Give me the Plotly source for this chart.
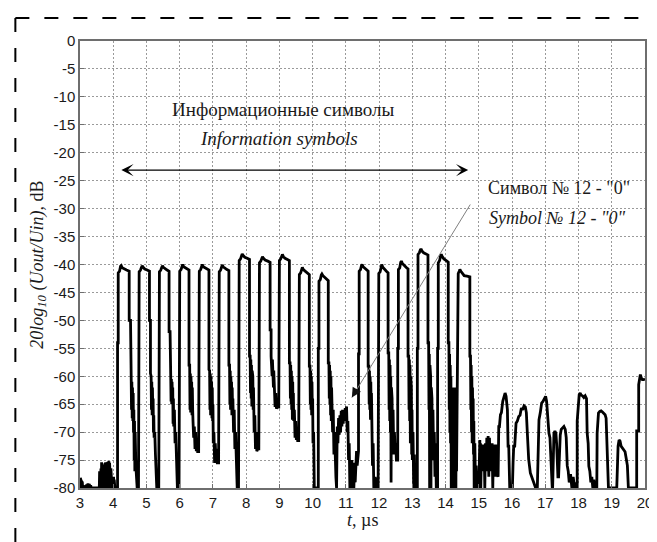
import plotly.graph_objects as go

# ---------------- data (t in µs, level in dB) ----------------
pre_noise = [(3.00,-80),(3.01,-78.2),(3.02,-80),(3.03,-78.6),(3.04,-80),(3.05,-78.8),(3.06,-80),(3.07,-79),
             (3.08,-80),(3.10,-79.5),(3.12,-80),(3.14,-79.6),(3.16,-80),(3.20,-79.4),(3.22,-80),(3.24,-79.2),
             (3.26,-80),(3.28,-79.3),(3.30,-80),(3.32,-79.5),(3.34,-80),(3.38,-80),(3.58,-80),
             (3.59,-77),(3.60,-80),(3.61,-77),(3.62,-80),(3.63,-76.5),(3.64,-80),(3.65,-75.4),(3.66,-80),
             (3.67,-76.5),(3.68,-80),(3.69,-76.8),(3.70,-80),(3.71,-76.5),(3.72,-80),(3.73,-76.2),(3.74,-80),
             (3.75,-75.6),(3.76,-80),(3.77,-75.4),(3.78,-80),(3.79,-75.8),(3.80,-80),(3.81,-75.6),(3.82,-80),
             (3.83,-75.5),(3.84,-80),(3.85,-75.6),(3.86,-80),(3.87,-75.2),(3.88,-80),(3.89,-75.5),(3.90,-80),
             (3.91,-75.8),(3.92,-80),(3.93,-76.5),(3.94,-80),(3.95,-77.5),(3.96,-80),(3.97,-78),(3.98,-80),
             (3.99,-78.2),(4.00,-80),(4.01,-78),(4.02,-80),(4.03,-78.5),(4.05,-80),(4.13,-80)]

sym01 = [(4.13,-80),(4.13,-54),(4.15,-54),(4.15,-41.5),(4.19,-41.2),(4.22,-40.3),(4.24,-40.2),(4.27,-40.6),
         (4.32,-40.8),(4.40,-41),(4.48,-41.2),(4.48,-50),(4.52,-50),(4.52,-59.5),(4.54,-60),(4.55,-66),
         (4.56,-61),(4.57,-67.5),(4.58,-62),(4.59,-68),(4.60,-63),(4.61,-70),(4.62,-66),(4.63,-75),
         (4.64,-68),(4.65,-77),(4.66,-70),(4.68,-76),(4.70,-78),(4.72,-80),(4.76,-80)]
sym02 = [(4.76,-80),(4.76,-54),(4.78,-54),(4.78,-41.3),(4.82,-41),(4.85,-40.3),(4.87,-40.2),(4.90,-40.5),
         (4.95,-40.8),(5.02,-41),(5.09,-41.2),(5.09,-50),(5.12,-50),(5.12,-59.5),(5.14,-60),(5.15,-66),
         (5.16,-61),(5.17,-67),(5.18,-62),(5.19,-66),(5.20,-64),(5.21,-70),(5.22,-67),(5.23,-71),
         (5.25,-70),(5.27,-74),(5.29,-77),(5.31,-80),(5.37,-80)]
sym03 = [(5.37,-80),(5.37,-54),(5.39,-54),(5.39,-41.3),(5.43,-41),(5.46,-40.3),(5.48,-40.2),(5.51,-40.5),
         (5.56,-40.8),(5.62,-41),(5.68,-41.2),(5.68,-52),(5.71,-52),(5.71,-59.5),(5.73,-60),(5.74,-64.5),
         (5.75,-60.5),(5.76,-65),(5.77,-61),(5.78,-64),(5.79,-62),(5.80,-68.5),(5.81,-64),(5.82,-69),
         (5.84,-66),(5.86,-72),(5.88,-70),(5.90,-76),(5.93,-80),(5.98,-80)]
sym04 = [(5.98,-80),(5.98,-52),(6.00,-52),(6.00,-41.2),(6.04,-40.9),(6.07,-40.2),(6.09,-40),(6.12,-40.4),
         (6.17,-40.6),(6.22,-40.8),(6.28,-41),(6.28,-58),(6.30,-58),(6.31,-66),(6.32,-59.5),(6.33,-66.5),
         (6.34,-60),(6.35,-65),(6.36,-61),(6.37,-67),(6.38,-62),(6.39,-66),(6.40,-68),(6.42,-71),
         (6.44,-69),(6.46,-73),(6.48,-70),(6.50,-73.4),(6.52,-72),(6.54,-73.5),(6.57,-73.5)]
sym05 = [(6.57,-73.5),(6.57,-57.5),(6.59,-57.5),(6.59,-41.2),(6.63,-40.9),(6.66,-40.2),(6.68,-40),(6.71,-40.4),
         (6.76,-40.6),(6.82,-40.8),(6.88,-41),(6.88,-58.8),(6.90,-59),(6.91,-66),(6.92,-59.5),(6.93,-67),
         (6.94,-60),(6.95,-66),(6.96,-61),(6.97,-67.5),(6.98,-62),(6.99,-68),(7.00,-65),(7.01,-72),
         (7.03,-70),(7.05,-75.5),(7.07,-72),(7.09,-75),(7.11,-73),(7.13,-75.5),(7.17,-75.5)]
sym06 = [(7.17,-75.5),(7.17,-56.5),(7.19,-56.5),(7.19,-41.3),(7.23,-41),(7.26,-40.3),(7.28,-40.1),(7.31,-40.4),
         (7.36,-40.7),(7.42,-40.9),(7.48,-41.1),(7.48,-58),(7.50,-58),(7.51,-65),(7.52,-59),(7.53,-66),
         (7.54,-60),(7.55,-64.5),(7.56,-61),(7.57,-67),(7.58,-62),(7.59,-66),(7.60,-64),(7.62,-70),
         (7.64,-66),(7.66,-73),(7.68,-70),(7.70,-76),(7.73,-80),(7.77,-80)]
sym07 = [(7.77,-80),(7.77,-54),(7.79,-54),(7.79,-39.3),(7.83,-39),(7.86,-38.3),(7.88,-38.1),(7.91,-38.4),
         (7.96,-38.7),(8.03,-38.9),(8.10,-39.1),(8.10,-56.4),(8.12,-56.4),(8.13,-63),(8.14,-57),(8.15,-64),
         (8.16,-58),(8.17,-65.4),(8.18,-59),(8.19,-64),(8.20,-60),(8.21,-66),(8.22,-62),(8.24,-70),
         (8.26,-67),(8.28,-73),(8.30,-70),(8.32,-73.4),(8.35,-73),(8.38,-73)]
sym08 = [(8.38,-73),(8.38,-55),(8.40,-55),(8.40,-39.7),(8.44,-39.4),(8.47,-38.8),(8.49,-38.6),(8.52,-38.9),
         (8.57,-39.2),(8.65,-39.4),(8.72,-39.6),(8.72,-51.7),(8.75,-51.7),(8.75,-56.4),(8.76,-59.4),(8.77,-56.8),
         (8.78,-60),(8.79,-57),(8.80,-59.5),(8.81,-58),(8.82,-62),(8.83,-59),(8.85,-64),(8.87,-65.5),
         (8.89,-63),(8.91,-65.8),(8.93,-65.5),(8.98,-65.5)]
sym09 = [(8.98,-65.5),(8.98,-55),(9.00,-55),(9.00,-39.3),(9.04,-39),(9.07,-38.4),(9.09,-38.2),(9.12,-38.6),
         (9.17,-38.9),(9.24,-39.1),(9.30,-39.3),(9.30,-57.6),(9.32,-57.6),(9.33,-64),(9.34,-58),(9.35,-65),
         (9.36,-59),(9.37,-66),(9.38,-60),(9.39,-67.8),(9.40,-61),(9.41,-66),(9.42,-63),(9.43,-68),
         (9.45,-66),(9.47,-71),(9.49,-68),(9.51,-71.4),(9.53,-70),(9.55,-71.5),(9.58,-71.5)]
sym10 = [(9.58,-71.5),(9.58,-55),(9.60,-55),(9.60,-41.8),(9.64,-41.5),(9.67,-40.7),(9.69,-40.5),(9.72,-40.9),
         (9.77,-41.2),(9.84,-41.5),(9.90,-41.8),(9.90,-58.2),(9.92,-58.2),(9.93,-65),(9.94,-59),(9.95,-66),
         (9.96,-60),(9.97,-67),(9.98,-61),(9.99,-66),(10.00,-64),(10.01,-72),(10.03,-70),(10.05,-80),
         (10.17,-80)]
sym11 = [(10.17,-80),(10.17,-55),(10.19,-55),(10.19,-43),(10.23,-42.7),(10.26,-41.9),(10.28,-41.7),(10.31,-42),
         (10.36,-42.3),(10.42,-42.6),(10.47,-42.9),(10.47,-57.6),(10.49,-57.6),(10.50,-64),(10.51,-58),(10.52,-65),
         (10.53,-59),(10.54,-67),(10.55,-60),(10.56,-68),(10.57,-62),(10.58,-66),(10.59,-64),(10.60,-70),
         (10.62,-66),(10.64,-74),(10.66,-70),(10.68,-77),(10.70,-78),(10.72,-80)]
sym12_zero = [(10.72,-80),(10.74,-69),(10.76,-72),(10.78,-67.5),(10.80,-70.5),(10.82,-67),(10.84,-70),(10.86,-66.2),
              (10.88,-69),(10.90,-66),(10.92,-68.5),(10.94,-66.3),(10.96,-68),(10.98,-65.7),(11.00,-67),(11.02,-65.4),
              (11.04,-70),(11.06,-68),(11.08,-75),(11.10,-72),(11.12,-80),(11.14,-76),(11.16,-80),(11.18,-75),
              (11.20,-79),(11.22,-77),(11.24,-80),(11.26,-75.5),(11.28,-79),(11.30,-74),(11.32,-73.4),(11.34,-76),
              (11.36,-73.4),(11.38,-73.4)]
sym13 = [(11.38,-73.4),(11.38,-56),(11.40,-56),(11.40,-41.2),(11.44,-40.9),(11.47,-40.2),(11.49,-40),(11.52,-40.4),
         (11.57,-40.7),(11.62,-40.9),(11.67,-41.2),(11.67,-58.2),(11.69,-58.2),(11.70,-65),(11.71,-59),(11.72,-66),
         (11.73,-60),(11.74,-67.8),(11.75,-61),(11.76,-66),(11.77,-63),(11.78,-72),(11.79,-68),(11.80,-76),
         (11.82,-72),(11.84,-80),(11.88,-78),(11.92,-80),(11.97,-80)]
sym14 = [(11.97,-80),(11.97,-57),(11.99,-57),(11.99,-41.6),(12.03,-41.3),(12.06,-40.2),(12.08,-40),(12.11,-40.5),
         (12.16,-40.9),(12.22,-41.2),(12.27,-41.5),(12.27,-55.8),(12.29,-55.8),(12.30,-66),(12.31,-57),(12.32,-68),
         (12.33,-58),(12.34,-70),(12.35,-60),(12.36,-79),(12.37,-62),(12.38,-68),(12.39,-64),(12.40,-72),
         (12.42,-66),(12.44,-74),(12.46,-70),(12.48,-73),(12.50,-72),(12.52,-75),(12.56,-75)]
sym15 = [(12.56,-75),(12.56,-55),(12.58,-55),(12.58,-40.9),(12.62,-40.6),(12.65,-39.6),(12.67,-39.4),(12.70,-39.8),
         (12.75,-40.2),(12.81,-40.5),(12.87,-40.8),(12.87,-56.4),(12.89,-56.4),(12.90,-66),(12.91,-57),(12.92,-68),
         (12.93,-58),(12.94,-72),(12.95,-60),(12.96,-70),(12.97,-62),(12.98,-74),(12.99,-66),(13.00,-75),
         (13.02,-70),(13.04,-80),(13.06,-74),(13.08,-80),(13.11,-80),(13.15,-80)]
sym16 = [(13.15,-80),(13.15,-55),(13.17,-55),(13.17,-38.2),(13.21,-37.9),(13.24,-37.4),(13.26,-37.2),(13.29,-37.6),
         (13.34,-37.9),(13.41,-38.1),(13.47,-38.3),(13.47,-54),(13.49,-54),(13.50,-66),(13.51,-56),(13.52,-80),
         (13.53,-58),(13.54,-68),(13.55,-60),(13.56,-80),(13.57,-62),(13.58,-70),(13.59,-64),(13.60,-73),
         (13.62,-66),(13.64,-75),(13.66,-70),(13.68,-78),(13.70,-72),(13.72,-80),(13.76,-80)]
sym17 = [(13.76,-80),(13.76,-55),(13.78,-55),(13.78,-39.7),(13.82,-39.3),(13.85,-38.4),(13.87,-38.2),(13.90,-38.6),
         (13.95,-39),(14.02,-39.3),(14.08,-39.6),(14.08,-54),(14.10,-54),(14.11,-66),(14.12,-56),(14.13,-70),
         (14.14,-58),(14.15,-72),(14.16,-60),(14.17,-80),(14.18,-63),(14.19,-80),(14.20,-62),(14.21,-78),
         (14.22,-63),(14.23,-80),(14.24,-62),(14.25,-79),(14.26,-64),(14.27,-80),(14.28,-62),(14.29,-78),
         (14.30,-65),(14.31,-80),(14.32,-63),(14.33,-77),(14.34,-66),(14.36,-66)]
sym18 = [(14.36,-66),(14.36,-46.3),(14.38,-46.3),(14.38,-41.6),(14.41,-41.2),(14.43,-40.9),(14.46,-41.2),(14.50,-41.6),
         (14.56,-42),(14.64,-42.1),(14.73,-42.2),(14.73,-56.4),(14.75,-56.4),(14.76,-66),(14.77,-58),(14.78,-70),
         (14.79,-60),(14.80,-72),(14.81,-62),(14.82,-70),(14.83,-64),(14.84,-74),(14.85,-68),(14.86,-80),
         (14.88,-72),(14.90,-80),(14.92,-76),(14.94,-80),(14.96,-80)]
tail_noise = [(14.96,-80),(15.00,-80),(15.02,-74),(15.03,-71.4),(15.04,-76),(15.05,-72),(15.06,-80),(15.08,-72.2),
              (15.10,-77),(15.12,-72.2),(15.14,-76),(15.16,-72.5),(15.18,-80),(15.20,-72),(15.22,-77),(15.24,-71),
              (15.26,-75),(15.28,-70.7),(15.30,-78),(15.32,-71),(15.34,-76),(15.36,-72.2),(15.38,-77),(15.40,-72),
              (15.42,-80),(15.44,-72.2),(15.46,-76),(15.48,-72.5),(15.50,-78),(15.52,-72.2),(15.54,-77),(15.56,-78)]
tail_bumps_a = [(15.58,-78),(15.60,-69),(15.62,-69),(15.65,-66.9),(15.68,-66.5),(15.72,-64.5),(15.76,-63.6),
                (15.79,-63),(15.82,-63.6),(15.84,-66),(15.86,-66),(15.88,-72.5),(15.90,-72.5),(15.93,-80),(16.00,-80),
                (16.01,-80),(16.03,-75.5),(16.05,-72.5),(16.08,-72.5),(16.12,-68.4),(16.16,-68),(16.20,-67.2),
                (16.24,-67),(16.28,-65.7),(16.32,-66),(16.36,-65.3),(16.40,-65.5),(16.43,-66.5),(16.46,-70.2),
                (16.50,-74.9),(16.55,-77.3),(16.60,-78.2),(16.65,-79),(16.71,-80),(16.76,-80)]
tail_bumps_b = [(16.78,-72.5),(16.81,-67.8),(16.85,-66.5),(16.89,-64.8),(16.93,-64.5),(16.97,-63.9),(17.01,-63.6),
                (17.04,-64.5),(17.06,-66.6),(17.09,-69),(17.11,-70.2),(17.14,-71),(17.17,-76),(17.21,-80),
                (17.22,-80),(17.24,-72),(17.26,-70.2),(17.29,-69.8),(17.32,-70.2),(17.34,-72),(17.36,-76),(17.38,-78),
                (17.40,-78),(17.42,-73),(17.45,-70.5),(17.48,-69.5),(17.52,-69.3),(17.56,-69),(17.60,-69.5),
                (17.63,-71),(17.66,-76),(17.69,-77),(17.72,-79),(17.76,-77.5),(17.80,-80),(17.84,-78),(17.88,-80),
                (17.92,-79),(17.95,-80)]
tail_bumps_c = [(17.96,-80),(17.96,-68),(17.99,-64.8),(18.02,-63.3),(18.05,-63),(18.08,-63.4),(18.12,-63.5),
                (18.16,-63.8),(18.20,-63.5),(18.24,-64),(18.26,-70.2),(18.29,-72),(18.31,-76.1),(18.34,-77),
                (18.37,-79),(18.40,-78),(18.43,-80),(18.46,-78.5),(18.49,-80),(18.55,-80),
                (18.56,-70.2),(18.58,-68),(18.60,-66.6),(18.64,-66.3),(18.68,-66.2),(18.72,-66.4),(18.76,-66.6),
                (18.80,-66.9),(18.83,-67.5),(18.85,-71.4),(18.88,-75),(18.90,-80),(19.15,-80),
                (19.17,-76.1),(19.19,-72.5),(19.22,-71.4),(19.25,-71.6),(19.28,-72.5),(19.32,-72.8),(19.36,-73.1),
                (19.40,-73.5),(19.44,-74.9),(19.47,-76),(19.50,-80),(19.75,-80),
                (19.75,-69.8),(19.81,-69.8),(19.81,-61.5),(19.84,-60),(19.86,-59.7),(19.89,-60.3),(19.92,-60.6),
                (19.96,-60.6),(20.00,-60.5)]

segments = [pre_noise, sym01, sym02, sym03, sym04, sym05, sym06, sym07, sym08, sym09, sym10, sym11,
            sym12_zero, sym13, sym14, sym15, sym16, sym17, sym18, tail_noise, tail_bumps_a, tail_bumps_b,
            tail_bumps_c]

x_ticks = list(range(3, 21))
y_ticks = list(range(-80, 1, 5))

title_ru = "Информационные символы"
title_en = "Information symbols"
note_ru = "Символ № 12 - \"0\""
note_en = "Symbol № 12 - \"0\""

# ---------------- figure ----------------
t_all, db_all = [], []
for seg in segments:
    for t, v in seg:
        t_all.append(t)
        db_all.append(v)

SERIF = "Liberation Serif, Times New Roman, serif"
SANS = "Liberation Sans, Arial, sans-serif"

fig = go.Figure()
fig.add_trace(go.Scatter(x=t_all, y=db_all, mode="lines",
                         line=dict(color="black", width=2.8), hoverinfo="skip", showlegend=False))

axis_common = dict(showgrid=True, gridcolor="#9a9a9a", griddash="2px,2px", gridwidth=1,
                   showline=True, linecolor="#6e6e6e", linewidth=1.5, mirror=True,
                   ticks="inside", ticklen=4, tickcolor="#6e6e6e",
                   tickfont=dict(family=SANS, size=15, color="#1a1a1a"), zeroline=False)

fig.update_xaxes(range=[3, 20], tickvals=x_ticks, ticktext=[str(v) for v in x_ticks], **axis_common)
fig.update_yaxes(range=[-80, 0], tickvals=y_ticks, ticktext=[str(v) for v in y_ticks], **axis_common)

ann = []
ann.append(dict(x=9.12, y=-12.3, xref="x", yref="y", text=title_ru, showarrow=False,
                font=dict(family=SERIF, size=19, color="#1a1a1a")))
ann.append(dict(x=9.0, y=-17.4, xref="x", yref="y", text="<i>" + title_en + "</i>", showarrow=False,
                font=dict(family=SERIF, size=19, color="#1a1a1a")))
ann.append(dict(x=15.22, y=-26.3, xref="x", yref="y", text=note_ru, showarrow=False, xanchor="left",
                font=dict(family=SERIF, size=18, color="#1a1a1a")))
ann.append(dict(x=15.26, y=-31.7, xref="x", yref="y", text="<i>" + note_en + "</i>", showarrow=False,
                xanchor="left", font=dict(family=SERIF, size=18, color="#1a1a1a")))
# double arrow
ann.append(dict(x=14.68, y=-23.1, ax=4.2, ay=-23.1, xref="x", yref="y", axref="x", ayref="y", text="",
                showarrow=True, arrowside="end+start", arrowhead=3, arrowsize=1.7, arrowwidth=1.2,
                arrowcolor="black"))
# pointer line to symbol 12
ann.append(dict(x=11.18, y=-63.8, ax=14.77, ay=-29, xref="x", yref="y", axref="x", ayref="y", text="",
                showarrow=True, arrowhead=0, arrowwidth=1, arrowcolor="#808080"))
ann.append(dict(x=11.18, y=-63.8, ax=6, ay=-10, xref="x", yref="y", text="",
                showarrow=True, arrowhead=2, arrowsize=1.6, arrowwidth=1.2, arrowcolor="#111"))
# axis titles
ann.append(dict(x=-0.074, y=0.5, xref="paper", yref="paper", text="<i>20log<sub>10</sub> (Uout/Uin),</i> dB",
                textangle=-90, showarrow=False, xanchor="center", yanchor="middle",
                font=dict(family=SERIF, size=18, color="#1a1a1a")))
ann.append(dict(x=0.5, y=-0.072, xref="paper", yref="paper", text="<i>t</i>, µs",
                showarrow=False, xanchor="center", yanchor="middle",
                font=dict(family=SERIF, size=18, color="#1a1a1a")))

shapes = [
    dict(type="line", xref="paper", yref="paper", x0=-0.1144, x1=1.04, y0=1.0515, y1=1.0515,
         line=dict(color="black", width=2, dash="14px,15px")),
    dict(type="line", xref="paper", yref="paper", x0=-0.1144, x1=-0.1144, y0=1.0515, y1=-0.15,
         line=dict(color="black", width=2, dash="14px,16px")),
]

fig.update_layout(width=657, height=542, margin=dict(l=72, r=17, t=33, b=62),
                  paper_bgcolor="white", plot_bgcolor="white",
                  annotations=ann, shapes=shapes, showlegend=False)

fig.write_html("out.html")
